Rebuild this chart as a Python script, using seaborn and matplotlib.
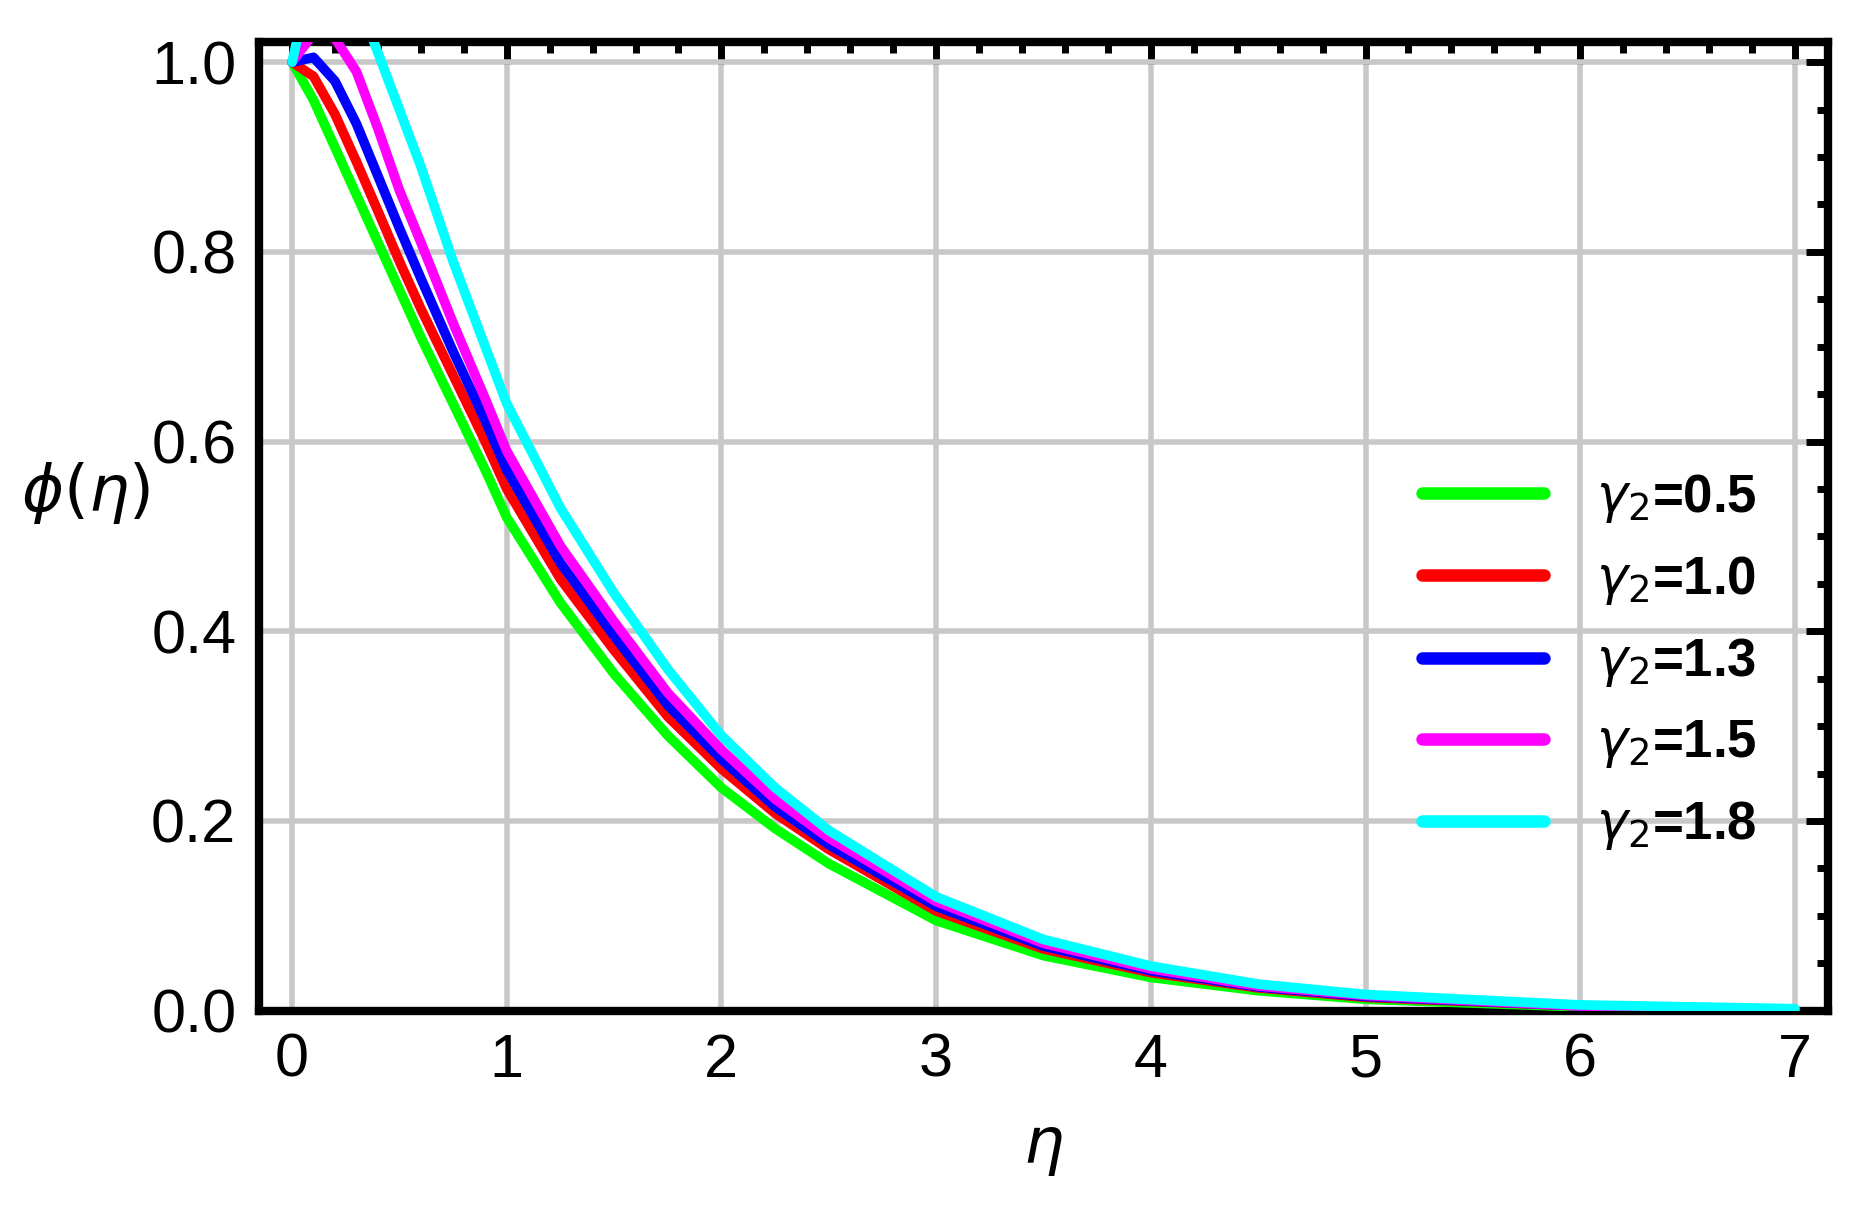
import matplotlib
matplotlib.use("Agg")
import matplotlib.pyplot as plt
import seaborn as sns
import pandas as pd
from matplotlib.ticker import MultipleLocator

# --- Data ---
eta = [0, 0.1, 0.2, 0.3, 0.4, 0.5, 0.6, 0.75, 0.9, 1, 1.25, 1.5, 1.75, 2, 2.25, 2.5, 3, 3.5, 4, 4.5, 5, 6, 7]
phi_05 = [1.0, 0.96, 0.91, 0.86, 0.81, 0.76, 0.71, 0.64, 0.57, 0.52, 0.43, 0.355, 0.29, 0.235, 0.192, 0.155, 0.095, 0.058, 0.035, 0.021, 0.012, 0.004, 0.001]
phi_10 = [1.0, 0.985, 0.945, 0.895, 0.843, 0.79, 0.74, 0.67, 0.60, 0.55, 0.455, 0.38, 0.31, 0.255, 0.208, 0.17, 0.105, 0.065, 0.04, 0.024, 0.014, 0.005, 0.001]
phi_13 = [1.0, 1.005, 0.98, 0.935, 0.88, 0.825, 0.772, 0.695, 0.622, 0.57, 0.472, 0.395, 0.322, 0.265, 0.215, 0.175, 0.11, 0.068, 0.042, 0.025, 0.015, 0.005, 0.001]
phi_15 = [1.0, 1.03, 1.025, 0.99, 0.93, 0.865, 0.81, 0.725, 0.645, 0.59, 0.49, 0.41, 0.335, 0.275, 0.223, 0.182, 0.115, 0.071, 0.044, 0.026, 0.016, 0.005, 0.001]
phi_18 = [1.0, 1.10, 1.12, 1.07, 1.01, 0.95, 0.89, 0.79, 0.70, 0.64, 0.53, 0.44, 0.36, 0.29, 0.235, 0.19, 0.12, 0.075, 0.047, 0.028, 0.017, 0.006, 0.002]
gammas = ["0.5", "1.0", "1.3", "1.5", "1.8"]
colors = ["#00ff00", "#ff0000", "#0000ff", "#ff00ff", "#00ffff"]

series = [phi_05, phi_10, phi_13, phi_15, phi_18]
df = pd.concat([pd.DataFrame({"eta": eta, "phi": s, "g": g}) for s, g in zip(series, gammas)])

sns.set_style("white")
plt.rcParams["font.family"] = ["Liberation Sans", "DejaVu Sans"]
plt.rcParams["mathtext.fontset"] = "dejavusans"
plt.rcParams["text.color"] = "black"
plt.rcParams["axes.labelcolor"] = "black"
plt.rcParams["xtick.color"] = "black"
plt.rcParams["ytick.color"] = "black"

fig = plt.figure(figsize=(18.6, 12.06), dpi=100)
ax = fig.add_axes([0.139, 0.162, 0.844, 0.803])
ax.grid(True, color="#c8c8c8", linewidth=4, zorder=0)
sns.lineplot(data=df, x="eta", y="phi", hue="g", palette=dict(zip(gammas, colors)),
             linewidth=7, ax=ax, legend=False, zorder=3)

for g, c in zip(gammas, colors):
    ax.plot([], [], color=c, linewidth=9, label=r"$\gamma_2$" + "=" + g)
leg = ax.legend(loc="center right", bbox_to_anchor=(0.985, 0.36), frameon=False,
                fontsize=38, handlelength=2.3, labelspacing=0.55, handletextpad=1.0)
for t in leg.get_texts():
    t.set_fontweight("bold")

ax.set_xlim(-0.156, 7.156)
ax.set_ylim(0, 1.021)
ax.xaxis.set_major_locator(MultipleLocator(1))
ax.xaxis.set_minor_locator(MultipleLocator(0.2))
ax.yaxis.set_major_locator(MultipleLocator(0.2))
ax.yaxis.set_minor_locator(MultipleLocator(0.05))
ax.set_yticklabels([f"{v:.1f}" for v in ax.get_yticks()])
ax.tick_params(which="both", direction="in", top=True, right=True, labelsize=44, width=5)
ax.tick_params(which="major", length=16, pad=16)
ax.tick_params(which="minor", length=8)
for sp in ax.spines.values():
    sp.set_linewidth(6)
    sp.set_color("black")

ax.set_xlabel(r"$\eta$", fontsize=46, labelpad=20)
ax.set_ylabel(r"$\phi(\eta)$", fontsize=46, rotation=0)
ax.yaxis.set_label_coords(-0.11, 0.5)

fig.savefig("out.png", dpi=100, facecolor="white")
